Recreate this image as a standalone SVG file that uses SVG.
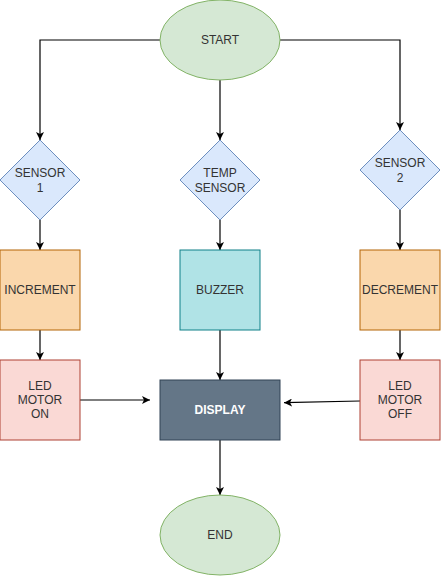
<svg xmlns="http://www.w3.org/2000/svg" width="441" height="576" viewBox="0 0 441 576">
<style>
text{font-family:"Liberation Sans",Arial,sans-serif;font-size:12px;fill:#333333;text-anchor:middle;dominant-baseline:central}
.c{fill:none;stroke:#000000;stroke-width:1.2}
.term{fill:#d5e8d4;stroke:#82b366;stroke-width:1}
.dec{fill:#dae8fc;stroke:#6c8ebf;stroke-width:1}
.org{fill:#fad7ac;stroke:#b46504;stroke-width:1}
.cyan{fill:#b0e3e6;stroke:#0e8088;stroke-width:1}
.red{fill:#fad9d5;stroke:#ae4132;stroke-width:1}
.disp{fill:#647687;stroke:#314354;stroke-width:1}
.w{fill:#ffffff;font-weight:bold}
</style>
<defs>
<marker id="arr" viewBox="0 0 10 10" refX="10" refY="5" markerWidth="8" markerHeight="8" markerUnits="userSpaceOnUse" orient="auto">
<path d="M0,0 L10,5 L0,10 L2.5,5 Z" fill="#000000"/>
</marker>
</defs>
<rect width="441" height="576" fill="#ffffff"/>
<g id="connectors">
<path class="c" d="M160,40 H40 V140" marker-end="url(#arr)"/>
<path class="c" d="M220,80 V140" marker-end="url(#arr)"/>
<path class="c" d="M280,40 H400 V130" marker-end="url(#arr)"/>
<path class="c" d="M40,220 V250" marker-end="url(#arr)"/>
<path class="c" d="M220,220 V250" marker-end="url(#arr)"/>
<path class="c" d="M400,210 V250" marker-end="url(#arr)"/>
<path class="c" d="M40,330 V360" marker-end="url(#arr)"/>
<path class="c" d="M400,330 V360" marker-end="url(#arr)"/>
<path class="c" d="M220,330 V380" marker-end="url(#arr)"/>
<path class="c" d="M80,400 H150" marker-end="url(#arr)"/>
<path class="c" d="M360,401 L284,402.7" marker-end="url(#arr)"/>
<path class="c" d="M220,440 V495" marker-end="url(#arr)"/>
</g>
<g id="start"><ellipse class="term" cx="220" cy="40" rx="60" ry="40"/><text x="220" y="40">START</text></g>
<g id="sensor1"><path class="dec" d="M40,140 L80,180 L40,220 L0,180 Z"/><text x="40" y="172.5">SENSOR</text><text x="40" y="187.5">1</text></g>
<g id="tempsensor"><path class="dec" d="M220,140 L260,180 L220,220 L180,180 Z"/><text x="220" y="172.5">TEMP</text><text x="220" y="187.5">SENSOR</text></g>
<g id="sensor2"><path class="dec" d="M400,130 L440,170 L400,210 L360,170 Z"/><text x="400" y="162.5">SENSOR</text><text x="400" y="177.5">2</text></g>
<g id="increment"><rect class="org" x="0" y="250" width="80" height="80"/><text x="40" y="290">INCREMENT</text></g>
<g id="buzzer"><rect class="cyan" x="180" y="250" width="80" height="80"/><text x="220" y="290">BUZZER</text></g>
<g id="decrement"><rect class="org" x="360" y="250" width="80" height="80"/><text x="400" y="290">DECREMENT</text></g>
<g id="ledon"><rect class="red" x="0" y="360" width="80" height="80"/><text x="40" y="385.6">LED</text><text x="40" y="400">MOTOR</text><text x="40" y="414.4">ON</text></g>
<g id="display"><rect class="disp" x="160" y="380" width="120" height="60"/><text class="w" x="220" y="410">DISPLAY</text></g>
<g id="ledoff"><rect class="red" x="360" y="360" width="80" height="80"/><text x="400" y="385.6">LED</text><text x="400" y="400">MOTOR</text><text x="400" y="414.4">OFF</text></g>
<g id="end"><ellipse class="term" cx="220" cy="535" rx="60" ry="40"/><text x="220" y="535">END</text></g>
</svg>
